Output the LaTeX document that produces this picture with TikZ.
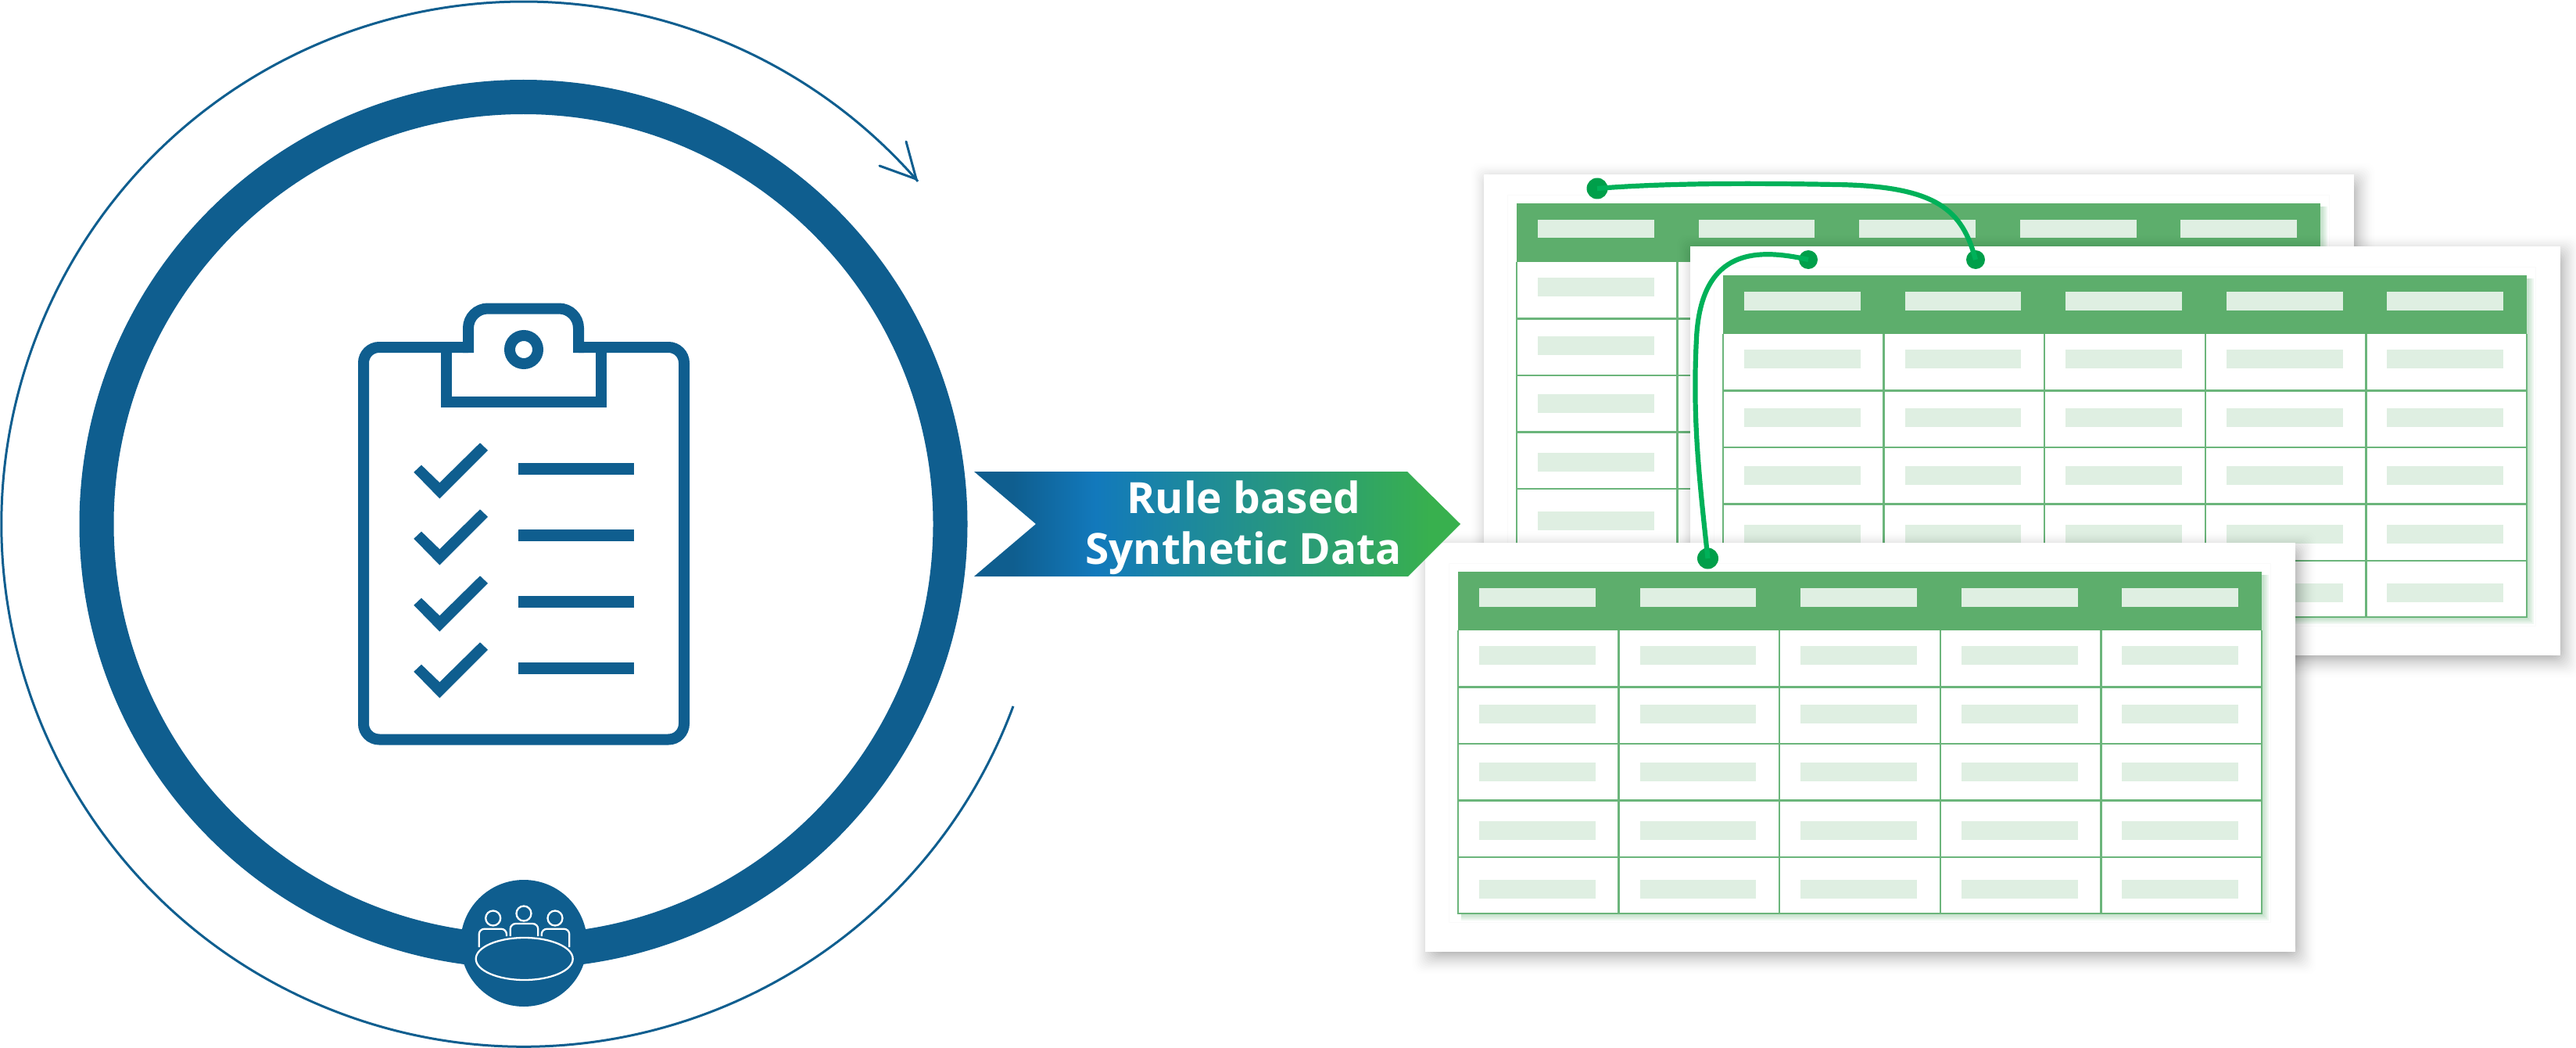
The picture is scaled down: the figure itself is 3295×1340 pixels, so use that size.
\documentclass[tikz,border=0pt]{standalone}
\usepackage{fontspec}
\setmainfont{Open Sans}
\definecolor{ringblue}{HTML}{0F5E8F}
\definecolor{hdrgreen}{HTML}{5DAE6C}
\definecolor{gridgreen}{HTML}{6BB57B}
\definecolor{barmint}{HTML}{DFEFE2}
\definecolor{linkgreen}{HTML}{00B159}
\definecolor{dotgreen}{HTML}{009F4A}
\definecolor{ribmid}{HTML}{1279BC}
\definecolor{ribend}{HTML}{38B04E}
\pgfdeclarehorizontalshading{ribbonfill}{100bp}{
  color(0bp)=(ringblue);
  color(25bp)=(ringblue);
  color(29bp)=(ringblue);
  color(37.5bp)=(ribmid);
  color(72bp)=(ribend);
  color(75bp)=(ribend);
  color(100bp)=(ribend)}
\tikzset{
  iconline/.style={draw=ringblue,line width=14pt,line join=miter},
  iconbar/.style={fill=ringblue},
  peopleline/.style={draw=white,line width=2.3pt},
  linkline/.style={draw=linkgreen,line width=6.2pt},
  linkdot/.style={circle,fill=dotgreen,inner sep=0pt,minimum size=#1},
  ribbontext/.style={text=white,font=\fontsize{55pt}{60pt}\selectfont\bfseries,inner sep=0pt,anchor=base},
}
\newcommand\datasheet[2]{%
\begin{scope}[shift={(#1,#2)}]
  \foreach \e in {22,20,...,-12}{
    \pgfmathsetmacro\shadeop{0.045*(1-(\e+12)/36)}
    \fill[black,opacity=\shadeop,rounded corners=12pt] (5-\e,7-\e) rectangle (1113+5+\e,523+7+\e);
  }
  \fill[white] (0,0) rectangle (1113,523);
  \fill[black!2] (30,26) rectangle (1082,486);
  \fill[white] (31,27) rectangle (1081,485);
  \foreach \e in {9,7,5,3}{
    \fill[gridgreen,opacity=.1] (46,41) rectangle (1070+\e,474+\e);
  }
  \fill[white] (42,37) rectangle (1070,474);
  \fill[hdrgreen] (42,37) rectangle (1070,112);
  \foreach \c in {0,1,2,3,4}{
    \fill[barmint] (69+205.6*\c,58) rectangle ++(148.7,23.5);
    \foreach \r in {0,1,2,3,4}{
      \fill[barmint] (69+205.6*\c,132+74.7*\r) rectangle ++(148.7,24);
    }
  }
  \foreach \r in {1,2,3,4}{\draw[gridgreen,line width=2.4pt] (42,112+72.5*\r) -- (1070,112+72.5*\r);}
  \foreach \c in {1,2,3,4}{\draw[gridgreen,line width=2.4pt] (42+205.6*\c,112) -- (42+205.6*\c,474);}
  \draw[gridgreen,line width=2.8pt] (42,112) -- (42,474) -- (1070,474) -- (1070,112);
\end{scope}}
\begin{document}
\begin{tikzpicture}[x=1pt,y=-1pt]
\useasboundingbox (0,0) rectangle (3295,1340);
% outer cycle arrow
\coordinate (arcstart) at (1296,903);
\coordinate (tip) at (1172,229);
\coordinate (barbA) at (1159,181);
\coordinate (barbB) at (1125,212);
\draw[ringblue,line width=3pt] (arcstart) arc[start angle=-20.4,end angle=-319,radius=668pt];
\draw[ringblue,line width=3pt,line cap=round,line join=miter] (barbA) -- (tip) -- (barbB);
% ring
\draw[ringblue,line width=44pt] (669.5,670) circle[radius=546pt];
% clipboard
\draw[iconline,rounded corners=20pt] (599,444) -- (465,444) -- (465,945.5) -- (875,945.5) -- (875,444) -- (740,444);
\draw[iconline,rounded corners=25pt] (599,451) -- (599,394.5) -- (740,394.5) -- (740,451);
\draw[iconline] (571,444) -- (571,514) -- (769,514) -- (769,444);
\draw[iconline] (670,447) circle[radius=18pt];
\foreach \i in {0,1,2,3}{
  \fill[iconbar] (529.3,603.8+85*\i) -- (539,594.6+85*\i) -- (562.3,617.2+85*\i) -- (614,566.3+85*\i) -- (624,575.8+85*\i) -- (562.3,637.5+85*\i) -- cycle;
  \fill[iconbar] (663,592+85*\i) rectangle (811,606.5+85*\i);
}
% meeting badge
\fill[ringblue] (670,1206) circle[radius=81pt];
\draw[peopleline] (670.7,1226) ellipse[x radius=62pt,y radius=27pt];
\draw[peopleline] (630.7,1174) circle[radius=9.5pt];
\draw[peopleline] (670,1168) circle[radius=9.5pt];
\draw[peopleline] (710,1174) circle[radius=9.5pt];
\draw[peopleline,rounded corners=7pt] (612.7,1211) -- (612.7,1187.7) -- (648,1187.7) -- (648,1197);
\draw[peopleline,rounded corners=7pt] (652.7,1197) -- (652.7,1181) -- (688.3,1181) -- (688.3,1197);
\draw[peopleline,rounded corners=7pt] (692.7,1197) -- (692.7,1187.7) -- (728.3,1187.7) -- (728.3,1211);
% sheets
\datasheet{1898}{223}
\datasheet{2162}{315}
\datasheet{1823}{694}
% ribbon
\shade[shading=ribbonfill] (1246,603) -- (1800,603) -- (1868,670) -- (1801,737) -- (1246,737) -- (1325,670) -- cycle;
\node[ribbontext] (ribA) at (1591,656) {Rule based};
\node[ribbontext] (ribB) at (1590.5,721.5) {Synthetic Data};
% links
\node[linkdot=27pt] (d1) at (2043,241) {};
\node[linkdot=24pt] (d2) at (2527,332) {};
\node[linkdot=24pt] (d3) at (2313,332) {};
\node[linkdot=27pt] (d4) at (2184.5,714) {};
\draw[linkline] (d1.center) .. controls (2130,234) and (2240,234) .. (2349,236) .. controls (2480,238) and (2510,270) .. (d2.center);
\draw[linkline] (d3.center) .. controls (2250,318) and (2176,315) .. (2170,432) .. controls (2165,530) and (2172,600) .. (d4.center);
\end{tikzpicture}
\end{document}
